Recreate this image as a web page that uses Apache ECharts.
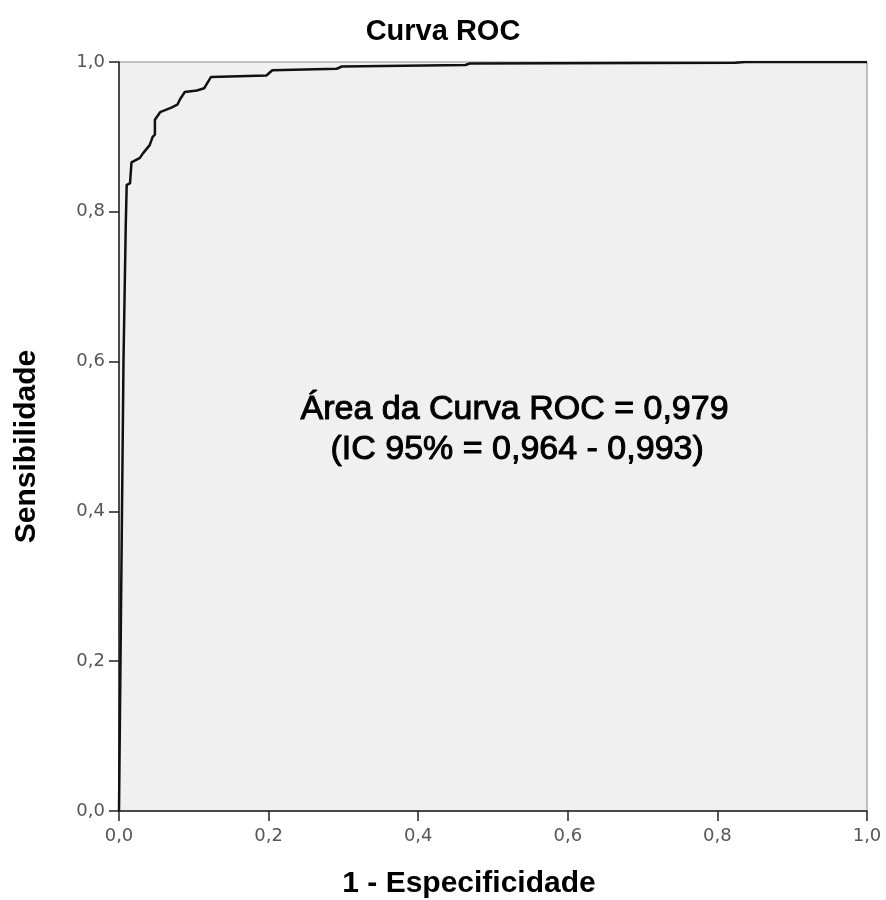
<!DOCTYPE html>
<html>
<head>
<meta charset="utf-8">
<script src="https://cdn.jsdelivr.net/npm/echarts@6/dist/echarts.min.js"></script>
<style>
  html, body { margin: 0; padding: 0; background: #fff; }
  #rocChart { width: 886px; height: 900px; }
</style>
</head>
<body>
<div id="rocChart"></div>
<script>
// 1 - Especificidade (x) and Sensibilidade (y)
var fpr = [
  0, 0.003, 0.006, 0.009, 0.0103, 0.0147, 0.0167, 0.028, 0.032, 0.041, 0.045,
  0.048, 0.048, 0.055, 0.070, 0.078, 0.082, 0.088, 0.104, 0.114, 0.123,
  0.197, 0.205, 0.291, 0.298, 0.463, 0.469, 0.824, 0.837, 1
];
var tpr = [
  0, 0.30, 0.60, 0.78, 0.836, 0.838, 0.866, 0.872, 0.878, 0.889, 0.900,
  0.903, 0.923, 0.933, 0.939, 0.943, 0.951, 0.960, 0.962, 0.965, 0.980,
  0.982, 0.989, 0.991, 0.994, 0.996, 0.998, 0.999, 1, 1
];
var annotation = ['Área da Curva ROC = 0,979', '(IC 95% = 0,964 - 0,993)'];

var myChart = echarts.init(document.getElementById('rocChart'));

function commaLabel(value) {
  return value.toFixed(1).replace('.', ',');
}

var curve = fpr.map(function (x, i) { return [x, tpr[i]]; });

var option = {
  backgroundColor: '#ffffff',
  animation: false,
  title: {
    text: 'Curva ROC',
    left: 'center',
    top: 12,
    textStyle: {
      fontFamily: 'Liberation Sans',
      fontSize: 29,
      fontWeight: 'bold',
      color: '#000'
    }
  },
  grid: {
    left: 119,
    right: 19,
    top: 62,
    bottom: 89,
    containLabel: false,
    outerBoundsMode: 'none',
    show: true,
    backgroundColor: '#f0f0f0',
    borderColor: '#8a8a8a',
    borderWidth: 1
  },
  xAxis: {
    type: 'value',
    min: 0,
    max: 1,
    interval: 0.2,
    name: '1 - Especificidade',
    nameLocation: 'middle',
    nameGap: 58,
    nameTextStyle: {
      fontFamily: 'Liberation Sans',
      fontSize: 30,
      fontWeight: 'bold',
      color: '#000',
      padding: [0, 48, 0, 0]
    },
    splitLine: { show: false },
    axisLine: { show: true, lineStyle: { color: '#222', width: 1.5 } },
    axisTick: { show: true, length: 10, lineStyle: { color: '#222', width: 1.5 } },
    axisLabel: {
      margin: 16,
      fontFamily: 'DejaVu Sans',
      fontSize: 18,
      color: '#555',
      formatter: commaLabel
    }
  },
  yAxis: {
    type: 'value',
    min: 0,
    max: 1,
    interval: 0.2,
    name: 'Sensibilidade',
    nameLocation: 'middle',
    nameGap: 77,
    nameTextStyle: {
      fontFamily: 'Liberation Sans',
      fontSize: 30,
      fontWeight: 'bold',
      color: '#000',
      padding: [0, 20, 0, 0]
    },
    splitLine: { show: false },
    axisLine: { show: true, lineStyle: { color: '#222', width: 1.5 } },
    axisTick: { show: true, length: 10, lineStyle: { color: '#222', width: 1.5 } },
    axisLabel: {
      margin: 14,
      fontFamily: 'DejaVu Sans',
      fontSize: 18,
      color: '#555',
      formatter: commaLabel
    }
  },
  graphic: [
    {
      type: 'text',
      left: 300,
      top: 392,
      style: {
        text: annotation[0],
        fontFamily: 'Liberation Sans',
        fontSize: 34,
        fill: '#000',
        stroke: '#000',
        lineWidth: 1
      }
    },
    {
      type: 'text',
      left: 330,
      top: 432,
      style: {
        text: annotation[1],
        fontFamily: 'Liberation Sans',
        fontSize: 34,
        fill: '#000',
        stroke: '#000',
        lineWidth: 1
      }
    }
  ],
  series: [
    {
      type: 'line',
      data: curve,
      showSymbol: false,
      smooth: false,
      lineStyle: { color: '#111', width: 2.5 },
      silent: true
    }
  ]
};

if (option && typeof option === 'object') {
  myChart.setOption(option);
}

window.addEventListener('resize', myChart.resize);
</script>
</body>
</html>
